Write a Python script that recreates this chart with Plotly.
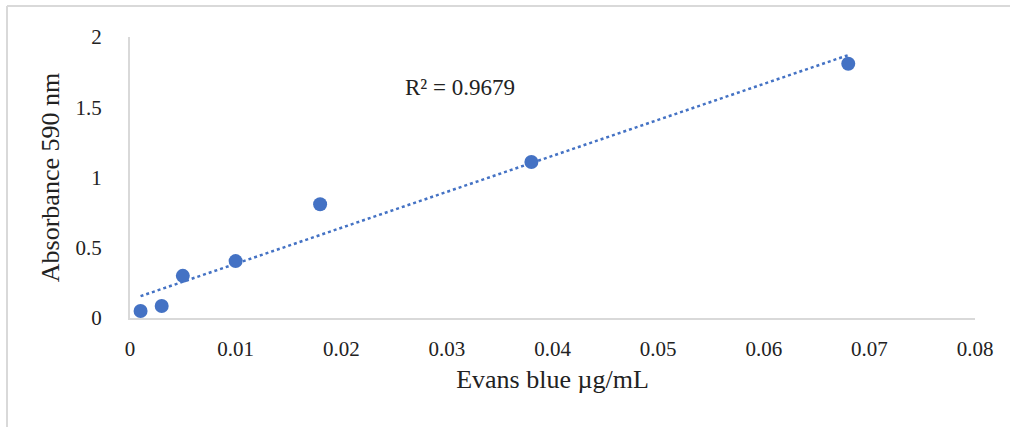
import numpy as np
import plotly.graph_objects as go

# Data
conc = [0.001, 0.003, 0.005, 0.010, 0.018, 0.038, 0.068]
absorb = [0.05, 0.085, 0.30, 0.405, 0.81, 1.11, 1.81]
x_ticks = [0, 0.01, 0.02, 0.03, 0.04, 0.05, 0.06, 0.07, 0.08]
x_tick_labels = ["0", "0.01", "0.02", "0.03", "0.04", "0.05", "0.06", "0.07", "0.08"]
y_ticks = [0, 0.5, 1, 1.5, 2]
y_tick_labels = ["0", "0.5", "1", "1.5", "2"]
r2_text = "R² = 0.9679"

# Linear trendline (least squares)
slope, intercept = np.polyfit(conc, absorb, 1)
tx = [min(conc), max(conc)]
ty = [slope * v + intercept for v in tx]

BLUE = "#4472C4"
GRAY = "#d9d9d9"
FONT = "Liberation Serif, Times New Roman, serif"

fig = go.Figure()
fig.add_trace(go.Scatter(x=tx, y=ty, mode="lines",
                         line=dict(color=BLUE, width=2.5, dash="dot"),
                         hoverinfo="skip", showlegend=False))
fig.add_trace(go.Scatter(x=conc, y=absorb, mode="markers",
                         marker=dict(color=BLUE, size=14),
                         showlegend=False))

fig.add_annotation(x=0.0312, y=1.64, xref="x", yref="y", text=r2_text,
                   showarrow=False, font=dict(family=FONT, size=23, color="#222"))

L, R, T, B = 130, 35, 37, 109
W, H = 1010, 427
pw, ph = W - L - R, H - T - B

def px(xp):
    return (xp - L) / pw

def py(yp):
    return (H - B - yp) / ph

# outer frame (top and left edges visible)
fig.add_shape(type="line", xref="paper", yref="paper",
              x0=px(7), x1=px(1010), y0=py(6), y1=py(6),
              line=dict(color=GRAY, width=2))
fig.add_shape(type="line", xref="paper", yref="paper",
              x0=px(7), x1=px(7), y0=py(6), y1=py(427),
              line=dict(color=GRAY, width=2))

fig.update_layout(
    width=W, height=H,
    margin=dict(l=L, r=R, t=T, b=B),
    paper_bgcolor="white", plot_bgcolor="white",
    font=dict(family=FONT, size=21, color="#222"),
)
fig.update_xaxes(range=[0, 0.08], tickvals=x_ticks, ticktext=x_tick_labels,
                 showgrid=False, zeroline=False, showline=True,
                 linecolor=GRAY, linewidth=2, ticks="", ticklabelstandoff=11,
                 title=dict(text="Evans blue µg/mL", font=dict(size=26),
                            standoff=10))
fig.update_yaxes(range=[0, 2], tickvals=y_ticks, ticktext=y_tick_labels,
                 showgrid=False, zeroline=False, showline=True,
                 linecolor=GRAY, linewidth=2, ticks="", ticklabelstandoff=22,
                 title=dict(text="Absorbance 590 nm", font=dict(size=26),
                            standoff=8))

fig.write_html("out.html")
